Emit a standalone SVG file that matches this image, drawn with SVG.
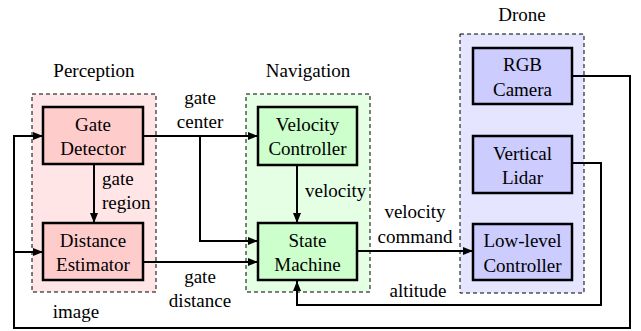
<svg xmlns="http://www.w3.org/2000/svg" width="641" height="331" viewBox="0 0 641 331">
<defs>
<marker id="arr" viewBox="0 0 10 8" refX="10" refY="4" markerWidth="10" markerHeight="8" markerUnits="userSpaceOnUse" orient="auto">
<path d="M0,0 L10,4 L0,8 Z" fill="#000"/>
</marker>
</defs>
<style>
text{font-family:"Liberation Serif","Times New Roman",serif;font-size:19px;fill:#000}
.c{text-anchor:middle}
.s{text-anchor:start}
.cl{stroke:#000;stroke-width:1;stroke-dasharray:4,3}
.nd{stroke:#000;stroke-width:2.5}
.ln{fill:none;stroke:#000;stroke-width:2}
</style>
<g id="cluster-perception">
<rect class="cl" x="32" y="94" width="124" height="198" fill="#ffe5e5"/>
<text class="c" x="94" y="77">Perception</text>
</g>
<g id="cluster-navigation">
<rect class="cl" x="246" y="94" width="124" height="198" fill="#e5ffe5"/>
<text class="c" x="308" y="77">Navigation</text>
</g>
<g id="cluster-drone">
<rect class="cl" x="460" y="34" width="124" height="259" fill="#e5e5ff"/>
<text class="c" x="522" y="21">Drone</text>
</g>
<g id="connectors">
<path class="ln" d="M143,136 H258" marker-end="url(#arr)"/>
<path class="ln" d="M200,136 V241 H258" marker-end="url(#arr)"/>
<path class="ln" d="M94,164 V223" marker-end="url(#arr)"/>
<path class="ln" d="M143,262 H258" marker-end="url(#arr)"/>
<path class="ln" d="M297,165 V223" marker-end="url(#arr)"/>
<path class="ln" d="M357,251 H473" marker-end="url(#arr)"/>
<path class="ln" d="M572,76 H630 V328 H14 V136 H43" marker-end="url(#arr)"/>
<path class="ln" d="M14,252 H43" marker-end="url(#arr)"/>
<path class="ln" d="M572,163 H601 V305 H297 V281" marker-end="url(#arr)"/>
<text class="c" x="200" y="104">gate</text>
<text class="c" x="200" y="128">center</text>
<text class="s" x="102" y="185">gate</text>
<text class="s" x="102" y="209">region</text>
<text class="s" x="305" y="197">velocity</text>
<text class="c" x="200" y="283">gate</text>
<text class="c" x="200" y="307">distance</text>
<text class="c" x="76" y="318">image</text>
<text class="c" x="415" y="218">velocity</text>
<text class="c" x="415" y="243">command</text>
<text class="c" x="418" y="297">altitude</text>
</g>
<g id="gate-detector">
<rect class="nd" x="43" y="107" width="100" height="57" fill="#ffcccc"/>
<text class="c" x="93" y="130.5">Gate</text>
<text class="c" x="93" y="155">Detector</text>
</g>
<g id="distance-estimator">
<rect class="nd" x="43" y="223" width="100" height="57" fill="#ffcccc"/>
<text class="c" x="93" y="246.5">Distance</text>
<text class="c" x="93" y="271">Estimator</text>
</g>
<g id="velocity-controller">
<rect class="nd" x="258" y="107" width="99" height="58" fill="#ccffcc"/>
<text class="c" x="307.5" y="130.5">Velocity</text>
<text class="c" x="307.5" y="155">Controller</text>
</g>
<g id="state-machine">
<rect class="nd" x="258" y="223" width="99" height="57" fill="#ccffcc"/>
<text class="c" x="307.5" y="246.5">State</text>
<text class="c" x="307.5" y="271">Machine</text>
</g>
<g id="rgb-camera">
<rect class="nd" x="473" y="48" width="99" height="56" fill="#ccccff"/>
<text class="c" x="522.5" y="71">RGB</text>
<text class="c" x="522.5" y="95.5">Camera</text>
</g>
<g id="vertical-lidar">
<rect class="nd" x="473" y="136" width="99" height="57" fill="#ccccff"/>
<text class="c" x="522.5" y="159.5">Vertical</text>
<text class="c" x="522.5" y="184">Lidar</text>
</g>
<g id="low-level-controller">
<rect class="nd" x="473" y="224" width="99" height="56" fill="#ccccff"/>
<text class="c" x="522.5" y="247">Low-level</text>
<text class="c" x="522.5" y="271.5">Controller</text>
</g>
</svg>
